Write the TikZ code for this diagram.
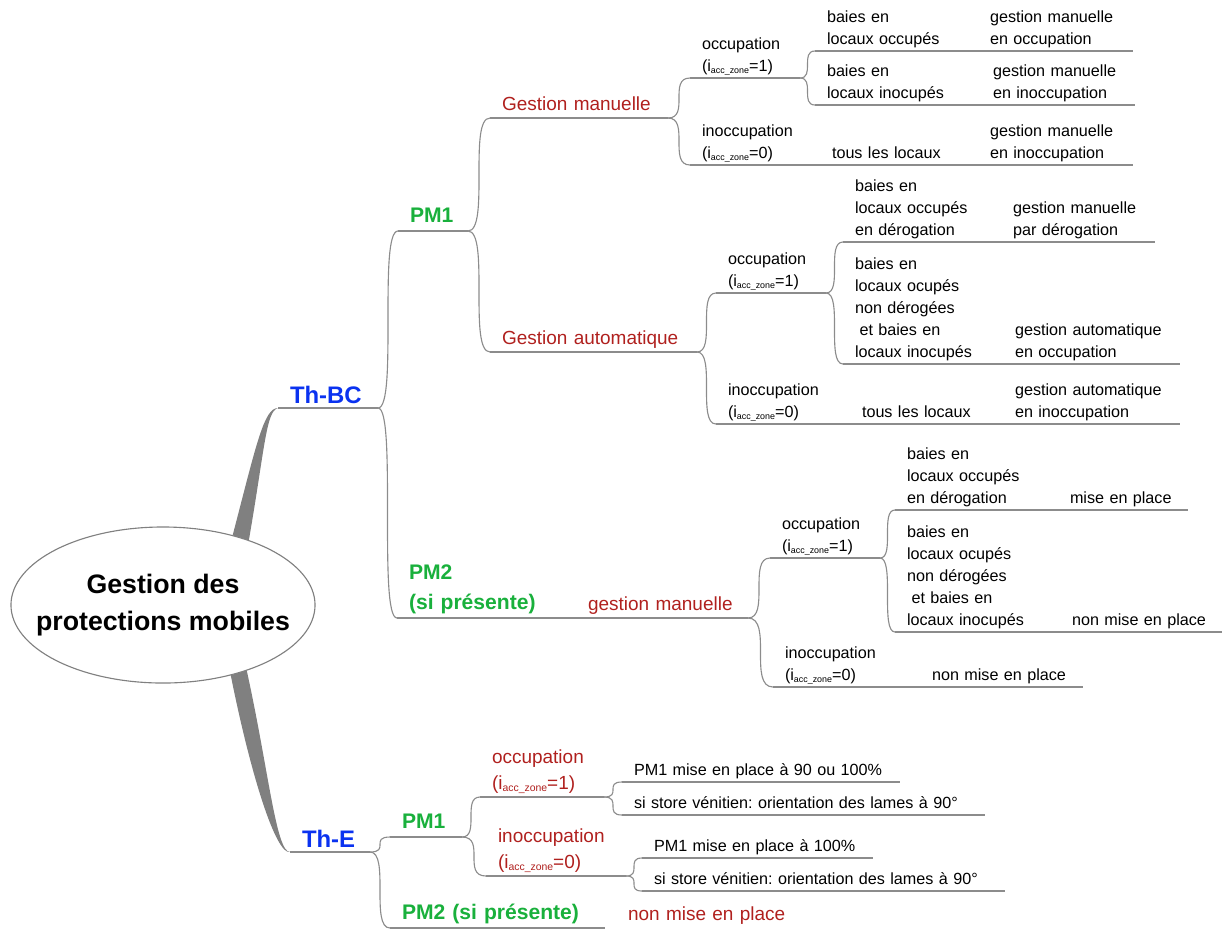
\documentclass[tikz,border=0pt]{standalone}
\usepackage{fontspec}
\setmainfont{Liberation Sans}
\usepackage{graphicx}
\usepackage{tikz}
\usetikzlibrary{shapes.geometric}
\definecolor{thblue}{HTML}{0A32F0}
\definecolor{pmgreen}{HTML}{19B03C}
\definecolor{mgred}{HTML}{B0201E}
\definecolor{linegray}{HTML}{8C8C8C}
\definecolor{trunkgray}{HTML}{808080}
\newcommand{\izone}[1]{(i\raisebox{-0.2ex}{\scalebox{0.55}{acc\_zone}}=#1)}
\frenchspacing

\begin{document}
\begin{tikzpicture}[
    x=0.025cm, y=-0.025cm,
    topic/.style={anchor=south west, inner xsep=0.3cm, inner ysep=0pt, outer sep=0pt, align=left,
        text width=#1*0.025cm-0.6cm, execute at end node=\strut},
    leafnode/.style={topic=#1, font=\fontsize{11.5}{15.6}\selectfont},
    mgmt/.style={topic=#1, text=mgred, font=\fontsize{13.5}{18.5}\selectfont},
    pmnode/.style={topic=#1, text=pmgreen, font=\fontsize{15}{21.3}\selectfont\bfseries},
    thnode/.style={topic=#1, text=thblue, font=\fontsize{17}{10}\selectfont\bfseries},
    uline/.style={draw=linegray, line width=0.8pt},
    branch/.style={draw=linegray, line width=0.8pt,
        to path={.. controls (\tikztotarget |- \tikztostart) and (\tikztostart |- \tikztotarget) .. (\tikztotarget)}}
]
\useasboundingbox (0,0) rectangle (1227,930);

\node[ellipse, minimum width=7.6cm, minimum height=3.9cm, inner xsep=-0.5cm, inner ysep=0.6cm,
    align=center, font=\fontsize{19}{26.3}\selectfont\bfseries] (root) at (163,605) {Gestion des\\protections mobiles};

% Th-BC
\node[thnode=100] (thbc) at (278,408) {\mbox{Th-BC}};
\node[pmnode=70] (tbpm1) at (398,231) {PM1};
\node[pmnode=179] (tbpm2) at (397,618) {PM2\\(si présente)};
\node[mgmt=178] (gm) at (490,118) {Gestion manuelle};
\node[mgmt=207] (ga) at (490,352) {Gestion automatique};
\node[mgmt=172] (pm2gm) at (576,618) {gestion manuelle};

\node[leafnode=110] (gmocc) at (690,78) {occupation\\\izone{1}};
\node[leafnode=130] (gminocc) at (690,165) {inoccupation\\\izone{0}};
\node[leafnode=158] (gmtous) at (820,165) {tous les locaux};
\node[leafnode=155] (gmtousr) at (978,165) {gestion manuelle\\en inoccupation};
\node[leafnode=163] (gmbo) at (815,51) {baies en\\locaux occupés};
\node[leafnode=155] (gmbor) at (978,51) {gestion manuelle\\en occupation};
\node[leafnode=166] (gmbi) at (815,105) {baies en\\locaux inocupés};
\node[leafnode=154] (gmbir) at (981,105) {gestion manuelle\\en inoccupation};

\node[leafnode=110] (gaocc) at (716,293) {occupation\\\izone{1}};
\node[leafnode=134] (gainocc) at (716,424) {inoccupation\\\izone{0}};
\node[leafnode=153] (gatous) at (850,424) {tous les locaux};
\node[leafnode=177] (gatousr) at (1003,424) {gestion automatique\\en inoccupation};
\node[leafnode=158] (gabd) at (843,242) {baies en\\locaux occupés\\en dérogation};
\node[leafnode=154] (gabdr) at (1001,242) {gestion manuelle\\par dérogation};
\node[leafnode=160] (gabn) at (843,364) {baies en\\locaux ocupés\\non dérogées\\\hspace*{.28em}et baies en\\locaux inocupés};
\node[leafnode=177] (gabnr) at (1003,364) {gestion automatique\\en occupation};

\node[leafnode=110] (p2occ) at (770,558) {occupation\\\izone{1}};
\node[leafnode=147] (p2inocc) at (773,687) {inoccupation\\\izone{0}};
\node[leafnode=163] (p2inoccr) at (920,687) {non mise en place};
\node[leafnode=163] (p2bd) at (895,510) {baies en\\locaux occupés\\en dérogation};
\node[leafnode=130] (p2bdr) at (1058,510) {mise en place};
\node[leafnode=165] (p2bn) at (895,632) {baies en\\locaux ocupés\\non dérogées\\\hspace*{.28em}et baies en\\locaux inocupés};
\node[leafnode=162] (p2bnr) at (1060,632) {non mise en place};

% Th-E
\node[thnode=80] (the) at (290,852) {Th-E};
\node[pmnode=72] (tepm1) at (390,837) {PM1};
\node[pmnode=215] (tepm2) at (390,928) {PM2 (si présente)};
\node[mgmt=210] (tepm2r) at (616,928) {non mise en place};
\node[mgmt=124] (teocc) at (480,797) {occupation\\\izone{1}};
\node[mgmt=140] (teinocc) at (486,876) {inoccupation\\\izone{0}};
\node[leafnode=278] (teo1) at (622,782) {PM1 mise en place à 90 ou 100\%};
\node[leafnode=363] (teo2) at (622,815) {si store vénitien: orientation des lames à 90°};
\node[leafnode=231] (tei1) at (642,858) {PM1 mise en place à 100\%};
\node[leafnode=363] (tei2) at (642,891) {si store vénitien: orientation des lames à 90°};

\foreach \n in {thbc, tbpm1, tbpm2, gm, ga, pm2gm, gmocc, gminocc, gmtous, gmtousr, gmbo, gmbor, gmbi, gmbir,
    gaocc, gainocc, gatous, gatousr, gabd, gabdr, gabn, gabnr, p2occ, p2inocc, p2inoccr, p2bd, p2bdr, p2bn, p2bnr,
    the, tepm1, tepm2, teocc, teinocc, teo1, teo2, tei1, tei2}
  \draw[uline] (\n.south west) -- (\n.south east);

\foreach \a/\b in {thbc/tbpm1, thbc/tbpm2, tbpm1/gm, tbpm1/ga, tbpm2/pm2gm, gm/gmocc, gm/gminocc, gmocc/gmbo, gmocc/gmbi,
    ga/gaocc, ga/gainocc, gaocc/gabd, gaocc/gabn, pm2gm/p2occ, pm2gm/p2inocc, p2occ/p2bd, p2occ/p2bn,
    the/tepm1, the/tepm2, tepm1/teocc, tepm1/teinocc, teocc/teo1, teocc/teo2, teinocc/tei1, teinocc/tei2}
  \draw[branch] (\a.south east) to (\b.south west);

\fill[trunkgray] (root.45) .. controls +(24,-92) and +(-14,0) .. (thbc.south west)
    .. controls +(-12,3) and +(16,-92) .. (root.37) -- cycle;
\fill[trunkgray] (root.-38) .. controls +(22,100) and +(-14,0) .. (the.south west)
    .. controls +(-14,3) and +(20,100) .. (root.-46) -- cycle;
\node[ellipse, draw=trunkgray, fill=white, line width=0.8pt, minimum width=7.6cm, minimum height=3.9cm] at (root.center) {};
\node[align=center, font=\fontsize{19}{26.3}\selectfont\bfseries] at (root.center) {Gestion des\\protections mobiles};
\end{tikzpicture}
\end{document}
